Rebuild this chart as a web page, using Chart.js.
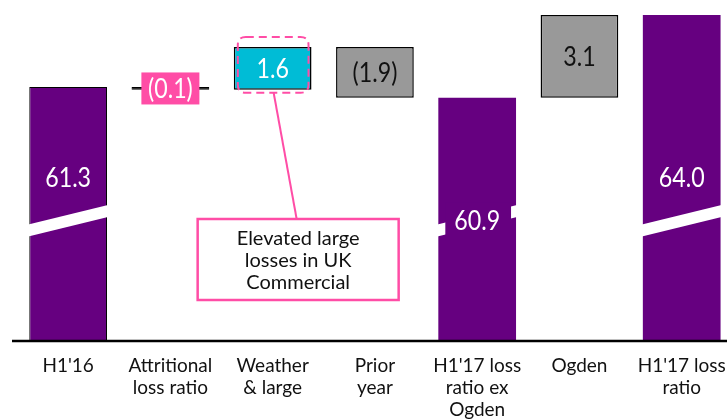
<!DOCTYPE html>
<html>
<head>
<meta charset="utf-8">
<script src="https://cdn.jsdelivr.net/npm/chart.js@4"></script>
<style>
  html, body { margin: 0; padding: 0; background: #fff; overflow: hidden; width: 727px; height: 420px; }
  #wrap { position: relative; width: 740px; height: 420px; }
</style>
</head>
<body>
<div id="wrap"><canvas id="c" width="740" height="420"></canvas></div>
<script>
// Loss ratio bridge, H1'16 -> H1'17 (percentage points)
const categories = [
  ["H1'16"],
  ["Attritional", "loss ratio"],
  ["Weather", "& large"],
  ["Prior", "year"],
  ["H1'17 loss", "ratio ex", "Ogden"],
  ["Ogden"],
  ["H1'17 loss", "ratio"]
];
const steps = [61.3, -0.1, 1.6, -1.9, 60.9, 3.1, 64.0];
const stepKinds = ["total", "delta", "delta", "delta", "total", "delta", "total"];
const valueLabels = ["61.3", "(0.1)", "1.6", "(1.9)", "60.9", "3.1", "64.0"];
const calloutLines = ["Elevated large", "losses in UK", "Commercial"];

// Visible part of the (broken) value axis
const axisFloor = 51.8;
const axisCeil = 64.56;
const breakValue = 56.3;

const PURPLE = "#660080";
const PINK = "#ff4da6";
const CYAN = "#00bcd6";
const GREY = "#999999";

// Floating ranges for the waterfall
const ranges = [];
let running = 0;
steps.forEach((v, i) => {
  if (stepKinds[i] === "total") {
    ranges.push([axisFloor, v]);
    running = v;
  } else {
    ranges.push([running, running + v]);
    running += v;
  }
});

const fillColors = [PURPLE, "#000000", CYAN, GREY, PURPLE, GREY, PURPLE];
const borderColors = ["#000000", "#000000", "#000000", "#000000", PURPLE, "#000000", PURPLE];
const borderWidths = [1, 1, 1.5, 1.5, 0, 1.5, 0];

const LABEL_FONT = "Lato, 'Open Sans', sans-serif";

function roundRect(ctx, x, y, w, h, r) {
  ctx.beginPath();
  ctx.moveTo(x + r, y);
  ctx.lineTo(x + w - r, y);
  ctx.quadraticCurveTo(x + w, y, x + w, y + r);
  ctx.lineTo(x + w, y + h - r);
  ctx.quadraticCurveTo(x + w, y + h, x + w - r, y + h);
  ctx.lineTo(x + r, y + h);
  ctx.quadraticCurveTo(x, y + h, x, y + h - r);
  ctx.lineTo(x, y + r);
  ctx.quadraticCurveTo(x, y, x + r, y);
  ctx.closePath();
}

// value text, slightly narrowed like the slide's number style
function narrowText(ctx, text, x, y, sx) {
  ctx.save();
  ctx.translate(x, y);
  ctx.scale(sx, 1);
  ctx.fillText(text, 0, 0);
  ctx.restore();
}

const bridgeDecor = {
  id: "bridgeDecor",
  afterDatasetsDraw(chart) {
    const ctx = chart.ctx;
    const yScale = chart.scales.y;
    const meta = chart.getDatasetMeta(0);
    const area = chart.chartArea;
    const yBreak = yScale.getPixelForValue(breakValue);

    ctx.save();

    // baseline
    ctx.strokeStyle = "#000";
    ctx.lineWidth = 2.5;
    ctx.beginPath();
    ctx.moveTo(12, area.bottom);
    ctx.lineTo(chart.width, area.bottom);
    ctx.stroke();

    meta.data.forEach((bar, i) => {
      const w = bar.width;
      const left = bar.x - w / 2;
      const right = bar.x + w / 2;
      const yTop = Math.min(bar.y, bar.base);
      const yBot = Math.max(bar.y, bar.base);

      ctx.textAlign = "center";
      ctx.textBaseline = "middle";

      if (stepKinds[i] === "total") {
        // axis-break band across the total bars
        ctx.fillStyle = "#fff";
        ctx.beginPath();
        ctx.moveTo(left - 2, yBreak + 10 - 6);
        ctx.lineTo(right + 2, yBreak - 10 - 6);
        ctx.lineTo(right + 2, yBreak - 10 + 6);
        ctx.lineTo(left - 2, yBreak + 10 + 6);
        ctx.closePath();
        ctx.fill();

        const onBreak = i === 4;
        const ly = onBreak ? yBreak + 1 : yBreak - 42;
        ctx.font = "27px " + LABEL_FONT;
        if (onBreak) {
          ctx.fillStyle = PURPLE;
          ctx.fillRect(left + 7, ly - 19, w - 12, 38);
        }
        ctx.fillStyle = "#fff";
        narrowText(ctx, valueLabels[i], bar.x, ly, 0.86);
      } else {
        const cy = (yTop + yBot) / 2;
        ctx.font = "27px " + LABEL_FONT;
        if (steps[i] === -0.1) {
          ctx.fillStyle = PINK;
          ctx.fillRect(bar.x - 29, cy - 16, 58, 32);
          ctx.fillStyle = "#fff";
        } else if (fillColors[i] === CYAN) {
          ctx.fillStyle = "#fff";
        } else {
          ctx.fillStyle = "#111";
        }
        narrowText(ctx, valueLabels[i], bar.x, cy + 1, 0.86);
      }
    });

    // highlight around "Weather & large" and its callout
    const wb = meta.data[2];
    const wl = wb.x - wb.width / 2;
    const wr = wb.x + wb.width / 2;
    const wt = Math.min(wb.y, wb.base);
    const wbo = Math.max(wb.y, wb.base);
    ctx.strokeStyle = PINK;
    ctx.lineWidth = 2;
    ctx.setLineDash([8, 5]);
    roundRect(ctx, wl + 4, wt - 10, (wr - 3) - (wl + 4), (wbo + 3) - (wt - 10), 8);
    ctx.stroke();
    ctx.setLineDash([]);

    const boxL = wb.x - 75, boxR = wb.x + 126, boxT = 219, boxB = 300;
    ctx.beginPath();
    ctx.moveTo(wb.x + 1, wbo + 3);
    ctx.lineTo(wb.x + 24, boxT);
    ctx.stroke();

    ctx.fillStyle = "#fff";
    ctx.fillRect(boxL, boxT, boxR - boxL, boxB - boxT);
    ctx.lineWidth = 2.5;
    ctx.strokeRect(boxL, boxT, boxR - boxL, boxB - boxT);

    ctx.fillStyle = "#111";
    ctx.font = "20px " + LABEL_FONT;
    ctx.textAlign = "center";
    ctx.textBaseline = "middle";
    const cx = (boxL + boxR) / 2;
    calloutLines.forEach((t, k) => ctx.fillText(t, cx, 239 + k * 22));

    ctx.restore();
  }
};

new Chart(document.getElementById("c"), {
  type: "bar",
  data: {
    labels: categories,
    datasets: [{
      data: ranges,
      backgroundColor: fillColors,
      borderColor: borderColors,
      borderWidth: borderWidths,
      borderSkipped: false,
      barPercentage: 0.76,
      categoryPercentage: 1.0
    }]
  },
  options: {
    responsive: false,
    animation: false,
    devicePixelRatio: 1,
    layout: { padding: { left: 17, right: 4, top: 0, bottom: 0 } },
    plugins: { legend: { display: false }, tooltip: { enabled: false } },
    scales: {
      x: {
        grid: { display: false, drawTicks: false },
        border: { display: false },
        ticks: {
          color: "#111",
          padding: 14,
          font: { family: "Lato, 'Open Sans', sans-serif", size: 19, lineHeight: 1.16 },
          maxRotation: 0,
          autoSkip: false
        },
        afterFit(scale) { scale.height = 79; }
      },
      y: {
        display: false,
        min: axisFloor,
        max: axisCeil
      }
    }
  },
  plugins: [bridgeDecor]
});
</script>
</body>
</html>
